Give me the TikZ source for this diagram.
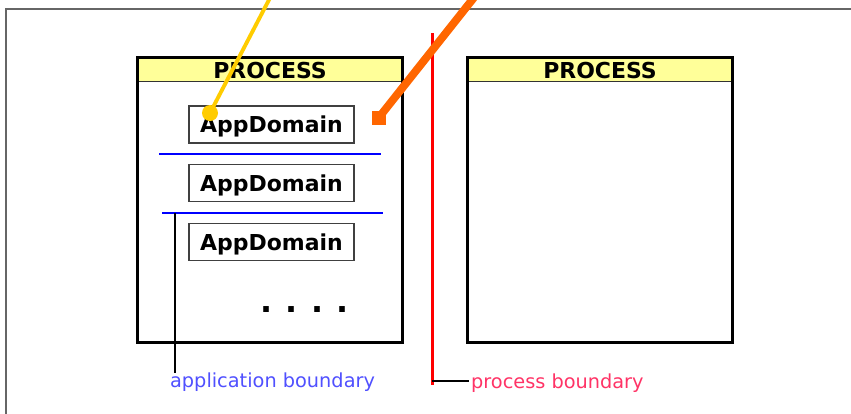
\documentclass[tikz,border=0pt]{standalone}
\usepackage{fontspec}
\setmainfont{DejaVu Sans}
\definecolor{headyellow}{HTML}{FFFF99}
\definecolor{calloutyellow}{HTML}{FFCC00}
\definecolor{calloutorange}{HTML}{FF6600}
\definecolor{appblue}{HTML}{5050FF}
\definecolor{procred}{HTML}{FF3366}
\tikzset{
	procbox/.style={draw, line width=1.7pt, minimum width=5.3cm, minimum height=5.7cm, inner sep=0pt},
	prochead/.style={draw=black!80, line width=0.8pt, fill=headyellow, minimum width=5.3cm, minimum height=0.47cm, inner sep=0pt, text depth=0pt, font=\bfseries\fontsize{12.5}{14}\selectfont},
	appbox/.style={draw=black!75, line width=1.1pt, minimum width=3.3cm, minimum height=0.74cm, inner sep=0pt, text depth=0pt, font=\bfseries\fontsize{12.5}{14}\selectfont},
	appline/.style={blue, line width=1.4pt},
	tag/.style={inner sep=1pt, font=\fontsize{11}{12}\selectfont}
}
\begin{document}
\begin{tikzpicture}[x=0.02cm, y=-0.02cm, line join=miter]
	\useasboundingbox (0,0) rectangle (851,413);
	\draw[black!60, line width=1.1pt] (6,420) -- (6,9) -- (860,9);
	\node[prochead, anchor=north] (headA) at (270,57.5) {PROCESS};
	\node[prochead, anchor=north] (headB) at (600,57.5) {PROCESS};
	\node[procbox] (procA) at (270,200) {};
	\node[procbox] (procB) at (600,200) {};
	\node[appbox] (appA) at (271.5,124.5) {AppDomain};
	\node[appbox] (appB) at (271.5,183) {AppDomain};
	\node[appbox] (appC) at (271.5,242) {AppDomain};
	\node[inner sep=0pt, font=\bfseries\fontsize{18}{20}\selectfont] (more) at (304.5,310) {.\hskip 7.4pt.\hskip 7.4pt.\hskip 7.4pt.};
	\coordinate (lineAl) at (159,154);
	\coordinate (lineAr) at (381,154);
	\coordinate (lineBl) at (162,213);
	\coordinate (lineBr) at (383,213);
	\draw[appline] (lineAl) -- (lineAr);
	\draw[appline] (lineBl) -- (lineBr);
	\coordinate (appFoot) at (175,373);
	\draw[line width=0.6pt] (175,213) -- (appFoot);
	\node[tag, text=appblue, anchor=base west] (appTag) at (168,387) {application boundary};
	\coordinate (procTop) at (432,33);
	\coordinate (procFoot) at (432,385);
	\draw[red, line width=1.7pt] (procTop) -- (procFoot);
	\node[tag, text=procred, anchor=base west] (procTag) at (469,388) {process boundary};
	\draw[line width=0.6pt] (432,381) -- (procTag.west |- 0,381);
	\coordinate (yellowTop) at (271.5,-5);
	\node[circle, fill=calloutyellow, minimum size=0.32cm, inner sep=0pt] (yellowDot) at (210,113) {};
	\draw[calloutyellow, line width=2.2pt] (yellowTop) -- (yellowDot.center);
	\coordinate (orangeTop) at (476,-5);
	\node[fill=calloutorange, minimum size=0.28cm, inner sep=0pt] (orangeSq) at (378.5,118) {};
	\draw[calloutorange, line width=4.5pt] (orangeTop) -- (orangeSq.center);
\end{tikzpicture}
\end{document}
